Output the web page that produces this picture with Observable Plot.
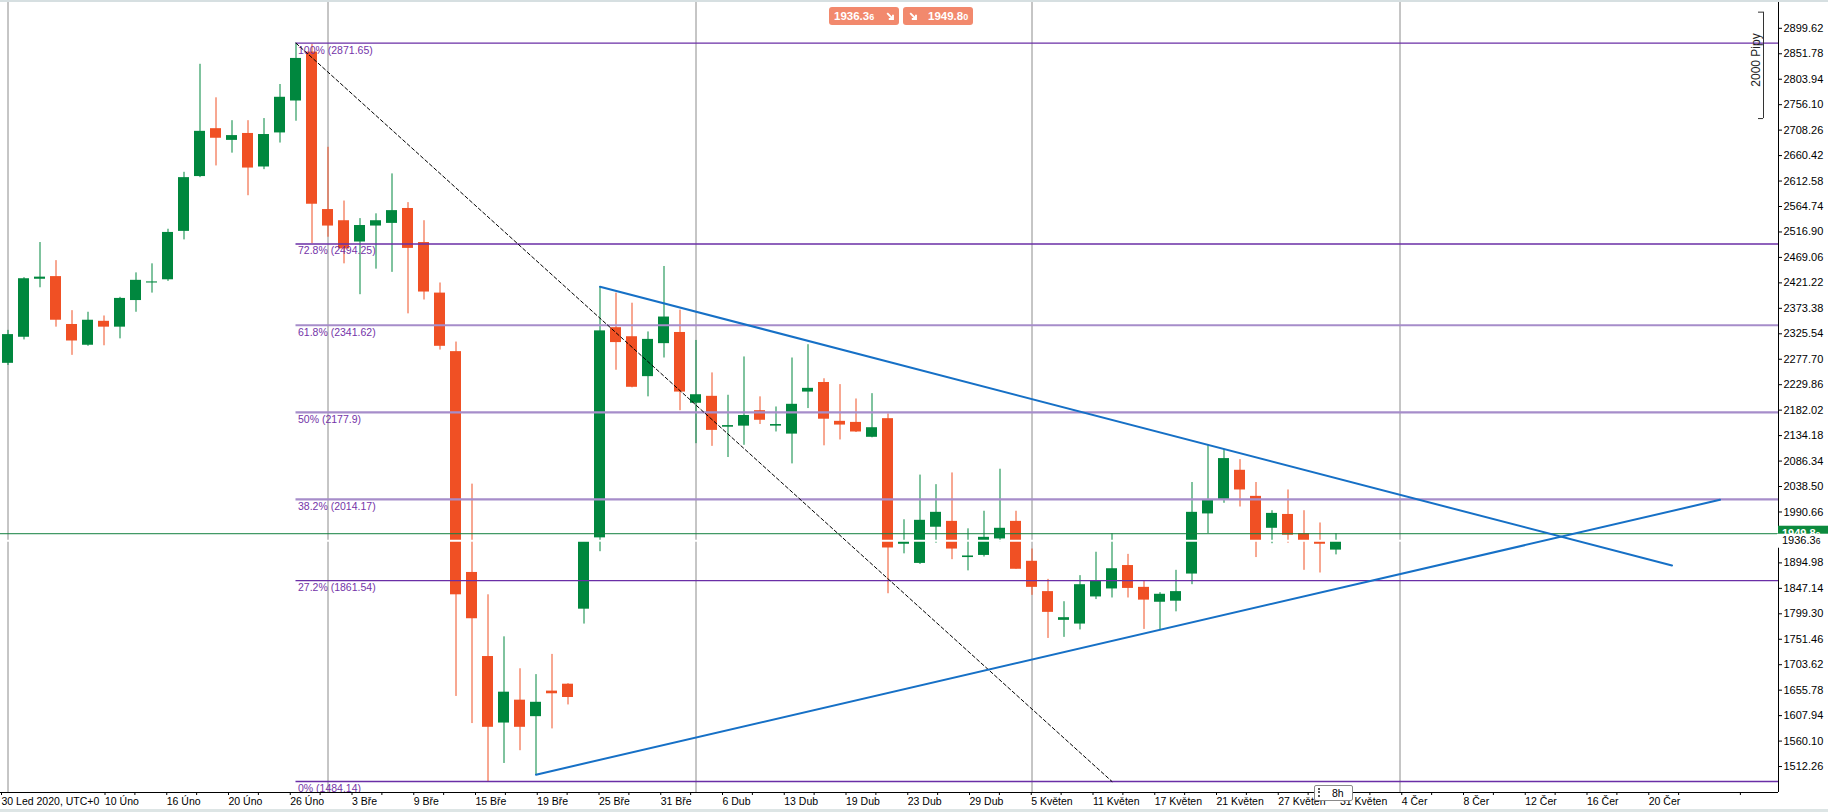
<!DOCTYPE html>
<html><head><meta charset="utf-8">
<script src="https://cdn.jsdelivr.net/npm/d3@7"></script>
<script src="https://cdn.jsdelivr.net/npm/@observablehq/plot@0.6"></script>
<style>
html,body{margin:0;padding:0;background:#fff;overflow:hidden}
#wrap{position:relative;width:1828px;height:812px;font-family:"Liberation Sans",Arial,sans-serif}
.strip{position:absolute;left:0;width:1828px;background:#d6dfe1}
.hbox{position:absolute;top:7px;height:18px;width:70px;background:#f2896d;border-radius:3px;color:#fff;font-weight:bold;font-size:11.5px;line-height:18px}
.sm{font-size:9px}
#tf{position:absolute;left:1314px;top:785px;width:37px;height:14px;background:#fff;border:1px solid #8a8a8a;border-radius:2px;font-size:10.5px;line-height:14px}
</style></head>
<body><div id="wrap"></div>
<script>
// ---- data ----
const opens  = [2270,2319,2428,2433,2343,2304,2349,2338,2388,2421,2427,2518,2621,2711,2689,2702,2639,2703,2763,2855,2559,2538,2498,2528,2533,2561,2497,2402,2292,1877,1719,1594,1637,1606,1654,1667,1808,1942,2337,2320,2245,2307,2328,2195,2208,2150,2152,2181,2152,2137,2216,2234,2161,2159,2131,2166,1930,1894,1962,1973,1905,1909,1940,1973,1898,1841,1787,1780,1831,1846,1890,1849,1821,1823,1874,1987,2013,2069,2020,1960,1986,1950,1935,1919];
const highs  = [2332,2431,2497,2463,2369,2366,2359,2394,2440,2457,2522,2629,2832,2769,2726,2726,2730,2794,2871.65,2869,2676,2575,2542,2551,2626,2572,2538,2421,2310,2043,1835,1756,1696,1685,1723,1668,1936,2414,2402,2383,2329,2452,2370,2313,2252,2210,2282,2207,2188,2280,2305,2241,2230,2203,2213,2175,1976,2060,2042,2064,1959,1992,2071,1992,1921,1864,1822,1871,1915,1950,1911,1860,1839,1881,2046,2117,2108,2089,2046,1993,2032,1993,1970,1950];
const lows   = [2266,2314,2412,2338,2285,2302,2303,2316,2366,2402,2424,2502,2619,2641,2665,2585,2634,2684,2725,2495,2507,2457,2399,2447,2441,2363,2389,2295,1644,1593,1484.14,1518,1542,1497,1583,1628,1780,1916,2257,2224,2207,2280,2181,2119,2114,2093,2116,2155,2141,2081,2185,2115,2126,2140,2130,1837,1912,1892,1932,1901,1880,1906,1934,1883,1834,1753,1755,1769,1826,1829,1829,1770,1769,1803,1854,1950,2007,2000,1905,1931,1932,1881,1876,1910];
const closes = [2324,2429,2432,2351,2312,2351,2338,2392,2426,2423,2516,2619,2706,2693,2698,2637,2700,2770,2843,2569,2528,2485,2529,2538,2557,2486,2404,2302,1835,1790,1586,1652,1586,1633,1649,1642,1935,2331,2309,2225,2315,2357,2216,2211,2144,2153,2172,2163,2155,2193,2223,2165,2154,2141,2149,1923,1935,1975,1990,1921,1908,1943,1960,1883,1849,1802,1792,1854,1860,1884,1847,1825,1836,1841,1990,2014,2091,2032,1937,1988,1947,1937,1930,1936.36];

const xLabels = ["30 Led 2020, UTC+0","10 Úno","16 Úno","20 Úno","26 Úno","3 Bře","9 Bře","15 Bře","19 Bře","25 Bře","31 Bře","6 Dub","13 Dub","19 Dub","23 Dub","29 Dub","5 Květen","11 Květen","17 Květen","21 Květen","27 Květen","31 Květen","4 Čer","8 Čer","12 Čer","16 Čer","20 Čer"];
const yTicks = [1512.26,1560.10,1607.94,1655.78,1703.62,1751.46,1799.30,1847.14,1894.98,1990.66,2038.50,2086.34,2134.18,2182.02,2229.86,2277.70,2325.54,2373.38,2421.22,2469.06,2516.90,2564.74,2612.58,2660.42,2708.26,2756.10,2803.94,2851.78,2899.62];
const monthGrid = [0, 20, 43, 64, 87];           // candle index of month separators

const fibPct = [100, 72.8, 61.8, 50, 38.2, 27.2, 0];
const fibVal = [2871.65, 2494.25, 2341.62, 2177.9, 2014.17, 1861.54, 1484.14];
const fibDark = [true, true, false, false, false, true, true];
const fibFrom = [18, 69];                        // candle index of 100% and 0% anchors

const upperX = [37, 104], upperY = [2414, 1890];
const lowerX = [33, 107], lowerY = [1497, 2013.5];

const bidPrice = 1936.36, askPrice = 1949.80;
const pipsTop = 2930, pipsBottom = 2730, pipsLabel = "2000 Pipy";

// ---- layout ----
const W = 1828, H = 812, MR = 50, MB = 20;
const step = 16, first = 7.5;
const xDomain = [-first / step, (W - MR - first) / step];
const yDomain = [1463.47, 2951.88];
const GREEN = "#00873e", RED = "#f05024";

const candles = opens.map((o, i) => ({i, o, h: highs[i], l: lows[i], c: closes[i]}));
const col = d => d.c >= d.o ? GREEN : RED;
const half = 5.5 / step;

const fib = fibPct.map((p, k) => ({p, v: fibVal[k], dark: fibDark[k]}));
const dash = [{x: fibFrom[0], y: fibVal[0]}, {x: fibFrom[1], y: fibVal[fibVal.length - 1]}];
const upper = upperX.map((x, k) => ({x, y: upperY[k]}));
const lower = lowerX.map((x, k) => ({x, y: lowerY[k]}));

const lblStep = 61.75 / step;
const labelPos = xLabels.map((_, k) => k === 0 ? xDomain[0] : 6 + lblStep * (k - 1));
const labelMap = new Map(labelPos.map((p, k) => [p, xLabels[k]]));
const minorPos = d3.range(1, 55, 2).map(m => 6 + lblStep / 2 * m);
const bx = (1763 - first) / step;

const chart = Plot.plot({
  width: W, height: H,
  marginLeft: 0, marginRight: MR, marginTop: 0, marginBottom: MB,
  style: {fontFamily: "'Liberation Sans', Arial, sans-serif", fontSize: "11px", background: "white", overflow: "visible"},
  x: {domain: xDomain, axis: null, label: null},
  y: {domain: yDomain, axis: null, label: null},
  color: {type: "identity"},
  marks: [
    Plot.ruleX(monthGrid, {stroke: "#8c8c8c", strokeWidth: 1}),
    Plot.ruleX(candles, {x: "i", y1: "l", y2: "h", stroke: col, strokeWidth: 1}),
    Plot.rect(candles, {x1: d => d.i - half, x2: d => d.i + half, y1: "o", y2: "c", fill: col}),
    Plot.ruleY([bidPrice], {stroke: "white", strokeWidth: 2}),
    Plot.ruleY(fib.filter(d => !d.dark), {y: "v", x1: fibFrom[0], x2: xDomain[1], stroke: "#a68dca", strokeWidth: 2.2}),
    Plot.ruleY(fib.filter(d => d.dark), {y: "v", x1: fibFrom[0], x2: xDomain[1], stroke: "#6a2ea6", strokeWidth: 1.3}),
    Plot.text(fib, {x: fibFrom[0], y: "v", text: d => `${d.p}% (${d.v})`, textAnchor: "start", lineAnchor: "top", dx: 2, dy: 3, fill: "#7434a8", fontSize: 10.5, clip: true}),
    Plot.ruleY([askPrice], {stroke: "#13803f", strokeWidth: 1}),
    Plot.line(dash, {x: "x", y: "y", stroke: "#000", strokeWidth: 1, strokeDasharray: "3.5,2.5"}),
    Plot.line(upper, {x: "x", y: "y", stroke: "#1670c6", strokeWidth: 2}),
    Plot.line(lower, {x: "x", y: "y", stroke: "#1670c6", strokeWidth: 2}),
    Plot.ruleX([bx], {y1: pipsTop, y2: pipsBottom, stroke: "#333", strokeWidth: 1}),
    Plot.ruleY([pipsTop, pipsBottom], {x1: bx - 5 / step, x2: bx, stroke: "#333", strokeWidth: 1}),
    Plot.text([pipsLabel], {x: bx - 7 / step, y: (pipsTop + pipsBottom) / 2 + 10, rotate: -90, fontSize: 12, fill: "#222"}),
    Plot.ruleX([xDomain[1]], {stroke: "black", strokeWidth: 1}),
    Plot.ruleY([yDomain[0]], {x1: xDomain[0], x2: xDomain[1], stroke: "black", strokeWidth: 1}),
    Plot.axisY({ticks: yTicks, anchor: "right", tickSize: 3, tickPadding: 2, tickFormat: d => d.toFixed(2), fontSize: 11}),
    Plot.axisX({ticks: labelPos, anchor: "bottom", tickSize: 3, tickPadding: 2, tickFormat: d => labelMap.get(d), textAnchor: "start", dx: 1, fontSize: 10.5}),
    Plot.axisX({ticks: minorPos, anchor: "bottom", tickSize: 3, tickFormat: () => ""})
  ]
});

const wrap = document.getElementById("wrap");
wrap.appendChild(chart);

// price labels on the right axis, positioned through the y scale
const sy = chart.scale("y");
const svg = d3.select(chart);
const ya = sy.apply(askPrice), yb = sy.apply(bidPrice);
svg.append("rect").attr("x", 1778).attr("y", ya - 7.5).attr("width", 50).attr("height", 15).attr("fill", "#0c8a3e");
const ta = svg.append("text").attr("x", 1782).attr("y", ya + 4).attr("text-anchor", "start").attr("fill", "white").attr("font-size", 11).attr("font-weight", "bold");
ta.append("tspan").text(askPrice.toFixed(2).slice(0, -1));
ta.append("tspan").attr("font-size", 8).text(askPrice.toFixed(2).slice(-1));
svg.append("rect").attr("x", 1777).attr("y", ya + 0.5).attr("width", 51).attr("height", 14).attr("fill", "white");
const tb = svg.append("text").attr("x", 1782).attr("y", yb + 4).attr("text-anchor", "start").attr("fill", "black").attr("font-size", 11);
tb.append("tspan").text(bidPrice.toFixed(2).slice(0, -1));
tb.append("tspan").attr("font-size", 8.5).text(bidPrice.toFixed(2).slice(-1));

// overlays
const arrowSvg = '<svg width="9" height="9" viewBox="0 0 9 9" style="display:block"><path d="M1.2 1.2 L7 7 M7 2.8 L7 7 L2.8 7" stroke="white" stroke-width="1.9" fill="none"/></svg>';
function priceBox(left, priceTxt, arrowLeft) {
  const d = document.createElement("div");
  d.className = "hbox";
  d.style.left = left + "px";
  const main = priceTxt.slice(0, -1), last = priceTxt.slice(-1);
  if (arrowLeft) {
    d.innerHTML = `<span style="position:absolute;left:6px;top:5px">${arrowSvg}</span><span style="position:absolute;left:25px">${main}<span class="sm">${last}</span></span>`;
  } else {
    d.innerHTML = `<span style="position:absolute;left:5px">${main}<span class="sm">${last}</span></span><span style="position:absolute;left:57px;top:5px">${arrowSvg}</span>`;
  }
  wrap.appendChild(d);
}
priceBox(829, bidPrice.toFixed(2), false);
priceBox(903, askPrice.toFixed(2), true);

const topStrip = document.createElement("div"); topStrip.className = "strip"; topStrip.style.top = "0px"; topStrip.style.height = "2px"; wrap.appendChild(topStrip);
const botStrip = document.createElement("div"); botStrip.className = "strip"; botStrip.style.top = "809px"; botStrip.style.height = "3px"; botStrip.style.background = "#dde5e5"; wrap.appendChild(botStrip);

const tf = document.createElement("div"); tf.id = "tf";
tf.innerHTML = '<span style="position:absolute;left:3px;top:2px;width:2px;height:9px;border-left:2px dotted #555"></span><span style="position:absolute;left:17px">8h</span>';
wrap.appendChild(tf);
</script>
</body></html>
